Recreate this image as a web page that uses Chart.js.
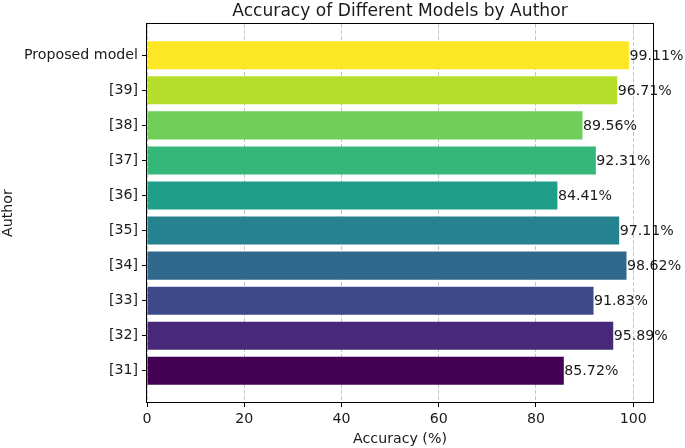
<!DOCTYPE html>
<html>
<head>
<meta charset="utf-8">
<script src="https://cdn.jsdelivr.net/npm/chart.js@4/dist/chart.umd.min.js"></script>
<style>
  html, body { margin: 0; padding: 0; background: #fff; }
  #wrap { width: 685px; height: 448px; }
</style>
</head>
<body>
<div id="wrap"><canvas id="chart"></canvas></div>
<script>
// bottom to top, as in the picture
const authors = ["[31]", "[32]", "[33]", "[34]", "[35]", "[36]", "[37]", "[38]", "[39]", "Proposed model"];
const accuracy = [85.72, 95.89, 91.83, 98.62, 97.11, 84.41, 92.31, 89.56, 96.71, 99.11];
const barColors = ["#440154", "#482878", "#3e4989", "#31688e", "#26828e",
                   "#1f9e89", "#35b779", "#6ece58", "#b5de2b", "#fde725"];
const xTicks = [0, 20, 40, 60, 80, 100];

const FONT = "'DejaVu Sans', sans-serif";
const TEXT = "#1a1a1a";
const SIZE = 14.2;

const points = accuracy.map((v, i) => ({ x: v, y: i }));

// labels at the end of each bar
const valueLabels = {
  id: "valueLabels",
  afterDatasetsDraw(chart) {
    const ctx = chart.ctx;
    const meta = chart.getDatasetMeta(0);
    ctx.save();
    ctx.font = SIZE + "px " + FONT;
    ctx.fillStyle = TEXT;
    ctx.textAlign = "left";
    ctx.textBaseline = "middle";
    meta.data.forEach((bar, i) => {
      ctx.fillText(accuracy[i].toFixed(2) + "%", bar.x + 0.5, bar.y + 1);
    });
    ctx.restore();
  }
};

// box around the plot
const frame = {
  id: "frame",
  afterDraw(chart) {
    const a = chart.chartArea;
    const ctx = chart.ctx;
    ctx.save();
    ctx.strokeStyle = "#000";
    ctx.lineWidth = 1;
    ctx.strokeRect(Math.round(a.left) - 0.5, Math.round(a.top) - 0.5,
                   Math.round(a.right - a.left) + 1, Math.round(a.bottom - a.top) + 1);
    ctx.restore();
  }
};

const chart = new Chart(document.getElementById("chart"), {
  type: "bar",
  data: {
    datasets: [{
      data: points,
      backgroundColor: barColors,
      borderWidth: 0,
      barPercentage: 1,
      categoryPercentage: 0.8
    }]
  },
  options: {
    indexAxis: "y",
    responsive: true,
    maintainAspectRatio: false,
    animation: false,
    devicePixelRatio: 1,
    layout: { padding: { top: 0, right: 32, bottom: 0, left: 0 } },
    plugins: {
      legend: { display: false },
      tooltip: { enabled: false },
      title: {
        display: true,
        fullSize: false,
        text: "Accuracy of Different Models by Author",
        color: TEXT,
        font: { family: FONT, size: 17.1, weight: "normal" },
        padding: { top: 1, bottom: 2.5 }
      }
    },
    scales: {
      x: {
        type: "linear",
        min: 0,
        max: 104.0655,
        afterBuildTicks: (axis) => { axis.ticks = xTicks.map(v => ({ value: v })); },
        afterFit: (axis) => { axis.height = 46; },
        grid: {
          color: "rgba(176,176,176,0.75)",
          lineWidth: 1,
          tickLength: 5,
          tickColor: "#000",
          tickWidth: 1,
          tickBorderDash: []
        },
        border: { display: false, dash: [4, 2] },
        ticks: {
          color: TEXT,
          padding: 4,
          maxRotation: 0,
          font: { family: FONT, size: SIZE }
        },
        title: {
          display: true,
          text: "Accuracy (%)",
          color: TEXT,
          font: { family: FONT, size: SIZE },
          padding: { top: 1, bottom: 0 }
        }
      },
      y: {
        type: "linear",
        min: -0.89,
        max: 9.89,
        offset: false,
        afterBuildTicks: (axis) => { axis.ticks = authors.map((a, i) => ({ value: i })); },
        afterFit: (axis) => { axis.width = 147; },
        grid: {
          offset: false,
          drawOnChartArea: false,
          tickLength: 5,
          tickColor: "#000",
          tickWidth: 1
        },
        border: { display: false },
        ticks: {
          color: TEXT,
          padding: 4,
          font: { family: FONT, size: SIZE },
          callback: (v) => authors[v]
        },
        title: {
          display: true,
          text: "Author",
          color: TEXT,
          font: { family: FONT, size: SIZE },
          padding: { top: 0, bottom: 0 }
        }
      }
    }
  },
  plugins: [valueLabels, frame]
});
</script>
</body>
</html>
